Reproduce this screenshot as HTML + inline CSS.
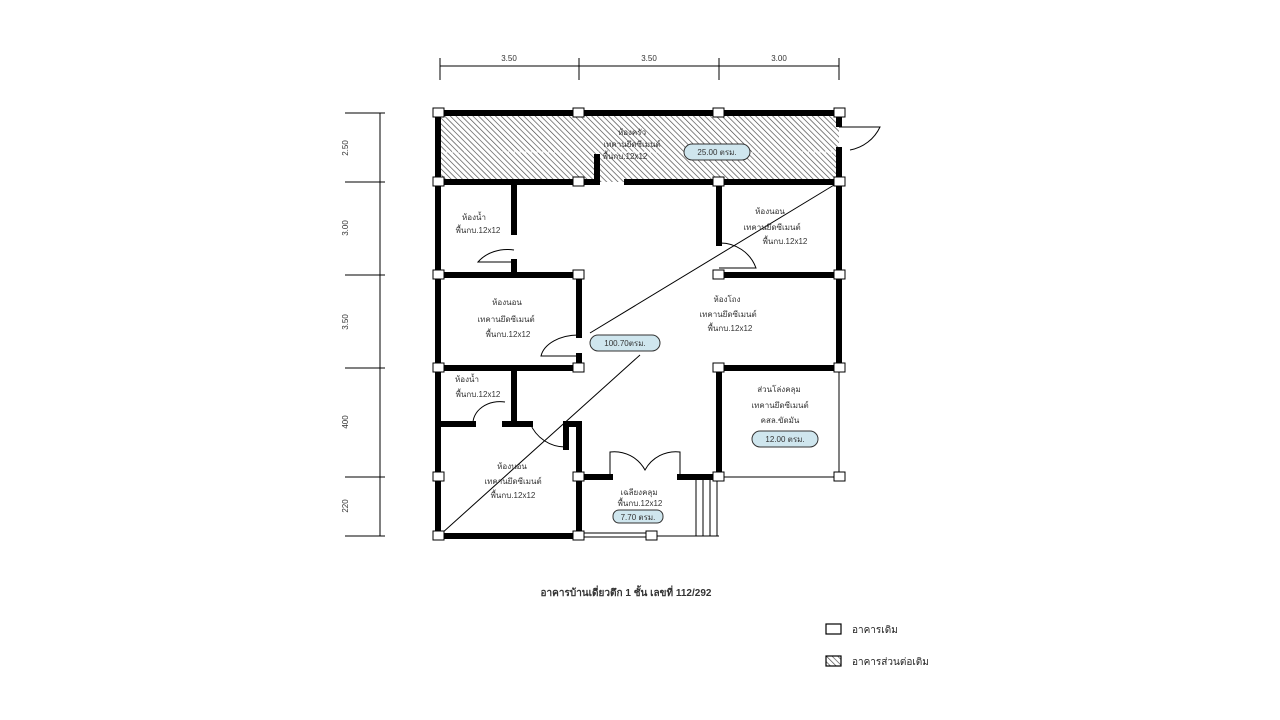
<!DOCTYPE html>
<html><head><meta charset="utf-8"><style>
html,body{margin:0;padding:0;background:#fff;}
svg{display:block;}
text{font-family:"Liberation Sans","Noto Sans CJK SC",sans-serif;fill:#333;}
</style></head><body>
<svg width="1280" height="720" viewBox="0 0 1280 720" xmlns="http://www.w3.org/2000/svg">
<defs>
<pattern id="h" width="4" height="4" patternUnits="userSpaceOnUse" patternTransform="rotate(-45)">
<line x1="0" y1="0" x2="0" y2="4" stroke="#444" stroke-width="1.3"/>
</pattern>
</defs>
<g stroke="#000" stroke-width="1">
<line x1="440" y1="66" x2="839" y2="66"/>
<line x1="440" y1="58" x2="440" y2="80"/><line x1="579" y1="58" x2="579" y2="80"/>
<line x1="719" y1="58" x2="719" y2="80"/><line x1="839" y1="58" x2="839" y2="80"/>
<line x1="380" y1="113" x2="380" y2="536"/>
<line x1="345" y1="113" x2="385" y2="113"/><line x1="345" y1="182" x2="385" y2="182"/>
<line x1="345" y1="275" x2="385" y2="275"/><line x1="345" y1="368" x2="385" y2="368"/>
<line x1="345" y1="477" x2="385" y2="477"/><line x1="345" y1="536" x2="385" y2="536"/>
</g>
<g font-size="8" text-anchor="middle">
<text x="509" y="61">3.50</text><text x="649" y="61">3.50</text><text x="779" y="61">3.00</text>
<text transform="translate(348,148) rotate(-90)">2.50</text>
<text transform="translate(348,228) rotate(-90)">3.00</text>
<text transform="translate(348,322) rotate(-90)">3.50</text>
<text transform="translate(348,422) rotate(-90)">400</text>
<text transform="translate(348,506) rotate(-90)">220</text>
</g>
<polygon points="438,113 839,113 839,182 597,182 438,182" fill="url(#h)"/>
<line x1="440" y1="152" x2="836" y2="152" stroke="#fff" stroke-width="1" stroke-dasharray="3,3"/>
<g stroke="#000" stroke-width="1" fill="none">
<line x1="839" y1="368" x2="839" y2="477"/>
<line x1="719" y1="477" x2="839" y2="477"/>
<line x1="579" y1="533" x2="655" y2="533"/><line x1="579" y1="537" x2="655" y2="537"/>
<line x1="655" y1="536" x2="719" y2="536"/>
<line x1="696" y1="477" x2="696" y2="536"/><line x1="703" y1="477" x2="703" y2="536"/>
<line x1="710" y1="477" x2="710" y2="536"/><line x1="717" y1="477" x2="717" y2="536"/>
<line x1="441" y1="534" x2="640" y2="355"/><line x1="590" y1="333" x2="839" y2="182"/>
<path d="M839,127 L880,127 A41,41 0 0 1 850,150"/>
<path d="M514,262 L478,262 A36,30 0 0 1 514,250"/>
<path d="M719,243 A38,38 0 0 1 756,268 L719,268"/>
<path d="M579,335 A38,25 0 0 0 541,356 L579,356"/>
<path d="M505,402 A27,22 0 0 0 473,425"/>
<path d="M530,423 A38,38 0 0 0 566,447"/>
<path d="M610,477 L610,452 A35,35 0 0 1 645,470 A35,35 0 0 1 680,452 L680,477"/>
</g>
<g stroke="#000" stroke-width="6" fill="none" stroke-linecap="square">
<line x1="438" y1="113" x2="839" y2="113"/>
<line x1="438" y1="113" x2="438" y2="536"/>
<line x1="839" y1="113" x2="839" y2="124"/>
<line x1="839" y1="150" x2="839" y2="368"/>
<line x1="438" y1="182" x2="597" y2="182"/>
<line x1="597" y1="157" x2="597" y2="182"/>
<line x1="627" y1="182" x2="839" y2="182"/>
<line x1="514" y1="182" x2="514" y2="232"/>
<line x1="514" y1="262" x2="514" y2="275"/>
<line x1="438" y1="275" x2="579" y2="275"/>
<line x1="719" y1="182" x2="719" y2="243"/>
<line x1="719" y1="275" x2="839" y2="275"/>
<line x1="579" y1="275" x2="579" y2="335"/>
<line x1="579" y1="356" x2="579" y2="368"/>
<line x1="438" y1="368" x2="579" y2="368"/>
<line x1="719" y1="368" x2="839" y2="368"/>
<line x1="719" y1="368" x2="719" y2="477"/>
<line x1="514" y1="368" x2="514" y2="423"/>
<line x1="438" y1="424" x2="473" y2="424"/>
<line x1="505" y1="424" x2="530" y2="424"/>
<line x1="566" y1="424" x2="579" y2="424"/>
<line x1="566" y1="424" x2="566" y2="447"/>
<line x1="579" y1="424" x2="579" y2="536"/>
<line x1="579" y1="477" x2="610" y2="477"/>
<line x1="680" y1="477" x2="719" y2="477"/>
<line x1="438" y1="536" x2="579" y2="536"/>
</g>
<g fill="#fff" stroke="#000" stroke-width="1">
<rect x="433" y="108" width="11" height="9"/><rect x="573" y="108" width="11" height="9"/>
<rect x="713" y="108" width="11" height="9"/><rect x="834" y="108" width="11" height="9"/>
<rect x="433" y="177" width="11" height="9"/><rect x="573" y="177" width="11" height="9"/>
<rect x="713" y="177" width="11" height="9"/><rect x="834" y="177" width="11" height="9"/>
<rect x="433" y="270" width="11" height="9"/><rect x="573" y="270" width="11" height="9"/>
<rect x="713" y="270" width="11" height="9"/><rect x="834" y="270" width="11" height="9"/>
<rect x="433" y="363" width="11" height="9"/><rect x="573" y="363" width="11" height="9"/>
<rect x="713" y="363" width="11" height="9"/><rect x="834" y="363" width="11" height="9"/>
<rect x="433" y="472" width="11" height="9"/><rect x="573" y="472" width="11" height="9"/>
<rect x="713" y="472" width="11" height="9"/><rect x="834" y="472" width="11" height="9"/>
<rect x="433" y="531" width="11" height="9"/><rect x="573" y="531" width="11" height="9"/>
<rect x="646" y="531" width="11" height="9"/>
</g>
<g fill="#cfe6ee" stroke="#333" stroke-width="1">
<rect x="684" y="144" width="66" height="16" rx="8"/>
<rect x="590" y="335" width="70" height="16" rx="8"/>
<rect x="752" y="431" width="66" height="16" rx="8"/>
<rect x="613" y="510" width="50" height="13" rx="6"/>
</g>
<g font-size="8" text-anchor="middle">
<text x="717" y="155">25.00 ตรม.</text>
<text x="625" y="346">100.70ตรม.</text>
<text x="785" y="442">12.00 ตรม.</text>
<text x="638" y="520">7.70 ตรม.</text>
<text x="632" y="135">ห้องครัว</text><text x="632" y="147">เทคานยึดซีเมนต์</text><text x="625" y="159">พื้นกบ.12x12</text>
<text x="474" y="220">ห้องน้ำ</text><text x="478" y="233">พื้นกบ.12x12</text>
<text x="770" y="214">ห้องนอน</text><text x="772" y="230">เทคานยึดซีเมนต์</text><text x="785" y="244">พื้นกบ.12x12</text>
<text x="507" y="305">ห้องนอน</text><text x="506" y="322">เทคานยึดซีเมนต์</text><text x="508" y="337">พื้นกบ.12x12</text>
<text x="727" y="302">ห้องโถง</text><text x="728" y="317">เทคานยึดซีเมนต์</text><text x="730" y="331">พื้นกบ.12x12</text>
<text x="467" y="382">ห้องน้ำ</text><text x="478" y="397">พื้นกบ.12x12</text>
<text x="779" y="392">ส่วนโล่งคลุม</text><text x="780" y="408">เทคานยึดซีเมนต์</text><text x="780" y="423">คสล.ขัดมัน</text>
<text x="512" y="469">ห้องนอน</text><text x="513" y="484">เทคานยึดซีเมนต์</text><text x="513" y="498">พื้นกบ.12x12</text>
<text x="639" y="495">เฉลียงคลุม</text><text x="640" y="506">พื้นกบ.12x12</text>
</g>
<text x="626" y="596" font-size="10" font-weight="bold" text-anchor="middle">อาคารบ้านเดี่ยวตึก 1 ชั้น เลขที่ 112/292</text>
<rect x="826" y="624" width="15" height="10" fill="#fff" stroke="#000" stroke-width="1.2"/>
<text x="852" y="633" font-size="10" style="fill:#222">อาคารเดิม</text>
<rect x="826" y="656" width="15" height="10" fill="url(#h)" stroke="#000" stroke-width="1.2"/>
<text x="852" y="665" font-size="10" style="fill:#222">อาคารส่วนต่อเติม</text>
</svg>
</body></html>
